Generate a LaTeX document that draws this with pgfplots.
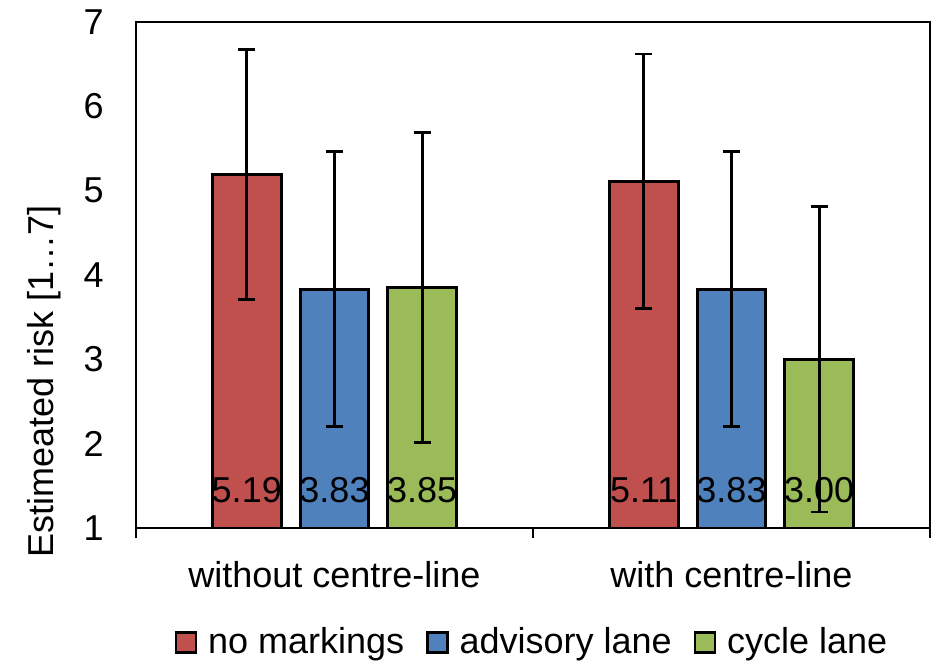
\documentclass[border=0pt]{standalone}
\usepackage{fontspec}
\setmainfont{Liberation Sans}
\usepackage{pgfplots}
\pgfplotsset{compat=1.18}
\usepackage{pgfplotstable}

\definecolor{cRed}{HTML}{C0504D}
\definecolor{cBlue}{HTML}{4F81BD}
\definecolor{cGreen}{HTML}{9BBB59}

% mean estimated risk and error half-width per condition
\pgfplotstableread{
x y err
0 5.19 1.48
1 5.11 1.51
}\tabNone
\pgfplotstableread{
x y err
0 3.83 1.63
1 3.83 1.63
}\tabAdvisory
\pgfplotstableread{
x y err
0 3.85 1.84
1 3.00 1.81
}\tabCycle

\newcommand{\lblfont}{\fontsize{18}{21}\selectfont}

\begin{document}
\begin{tikzpicture}
\begin{axis}[
  at={(0,0)}, anchor=south west,
  width=397pt, height=253pt, scale only axis,
  xmin=-0.5, xmax=1.5, ymin=1, ymax=7,
  ytick={1,2,...,7},
  xtick={0,1},
  xticklabels={without centre-line, with centre-line},
  major tick length=0pt,
  xtick pos=left,
  extra x ticks={-0.5,0.5,1.5},
  extra x tick labels={},
  extra x tick style={major tick length=5pt, tick align=outside, xtick pos=left},
  tick style={black, line width=1.2pt},
  axis line style={black, line width=1.2pt},
  /pgf/number format/assume math mode=true,
  xticklabel style={font=\lblfont, anchor=center, yshift=-23.5pt},
  yticklabel style={font=\lblfont, anchor=east, inner sep=0pt, xshift=-16pt},
  ylabel={Estimeated risk [1…7]},
  ylabel style={font=\lblfont, at={(axis description cs:-0.116,0.29)}, anchor=center},
  ybar, bar width=0.173,
  every axis plot/.append style={draw=black, line width=1.4pt},
  error bars/y dir=both, error bars/y explicit,
  error bars/error bar style={black, line width=1.4pt},
  error bars/error mark options={black, rotate=90, mark size=4.3pt, line width=1.4pt},
  nodes near coords,
  point meta=y,
  visualization depends on={y \as \rawy},
  every node near coord/.append style={font=\lblfont, black, anchor=center,
    /pgf/number format/fixed, /pgf/number format/fixed zerofill,
    /pgf/number format/precision=2,
    shift={(axis direction cs:0,{1.45-\rawy})}},
  legend columns=3,
  legend style={at={(axis description cs:0.5,-0.226)}, anchor=center, draw=none, fill=none,
    font=\lblfont, inner sep=0pt,
    /tikz/every even column/.append style={column sep=9pt},
    /tikz/every odd column/.append style={column sep=3.5pt}},
  legend image code/.code={\draw[#1, line width=1.2pt] (0pt,-5pt) rectangle (10pt,5pt);},
]
\addplot[fill=cRed, bar shift=-0.221] table[x=x, y=y, y error=err] {\tabNone};
\addlegendentry{no markings}
\addplot[fill=cBlue, bar shift=0] table[x=x, y=y, y error=err] {\tabAdvisory};
\addlegendentry{advisory lane}
\addplot[fill=cGreen, bar shift=0.221] table[x=x, y=y, y error=err] {\tabCycle};
\addlegendentry{cycle lane}
\end{axis}
\pgfresetboundingbox
\path[use as bounding box] (-68pt,-66pt) rectangle (403.5pt,264pt);
\end{tikzpicture}
\end{document}
